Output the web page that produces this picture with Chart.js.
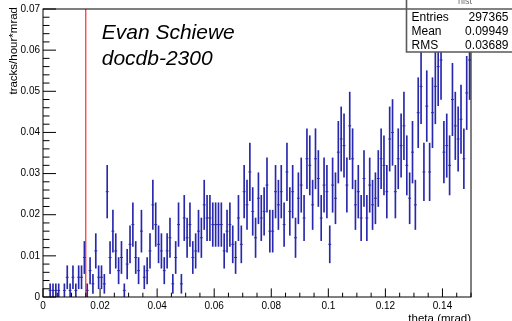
<!DOCTYPE html>
<html><head><meta charset="utf-8">
<script src="https://cdn.jsdelivr.net/npm/chart.js@4.4.1/dist/chart.umd.min.js"></script>
<style>html,body{margin:0;padding:0;background:#fff;overflow:hidden}canvas{display:block}</style>
</head><body>
<canvas id="c" width="512" height="321" style="width:512px;height:321px"></canvas>
<script>
// ---- data (150 bins, 0 .. 0.15 mrad) ----
const xRange = [0, 0.15];
const yRange = [0, 0.07];
const rate = [
  0,0,.0016,.0016,.0016,.0016,0,.0016,.0048,.0016,
  .0048,.0016,.0048,.0048,.0096,.0016,.0064,.0032,.0112,.0048,
  .0048,.0032,.0256,.0096,.016,.0112,.0064,.0096,.0016,.008,
  .0128,.0176,.0096,.0064,.016,.0048,.0064,.0112,.0224,.0176,
  .0128,.0112,.0064,.0112,.0144,.0032,.0096,.0176,.0032,.0192,
  .0144,.0176,.0096,.0112,.016,.0144,.0224,.0192,.0192,.0176,
  .0176,.0176,.0176,.0112,.016,.0176,.0128,.0096,.0192,.0128,
  .0256,.0224,.0304,.0208,.0144,.024,.0192,.0208,.0272,.016,
  .016,.0256,.0224,.0256,.0176,.0304,.0208,.0256,.0144,.024,
  .0272,.0192,.0336,.032,.0224,.0336,.0288,.0192,.0272,.0256,
  .0128,.0272,.024,.0352,.0384,.0368,.0272,.0416,.0336,.0224,
  .0256,.0192,.0288,.0192,.0272,.0224,.024,.0288,.0336,.032,
  .0256,.0384,.04,.0256,.0336,.0368,.0416,.032,.024,.0352,
  .0224,.0448,.0512,.0304,.0464,.0304,.0448,.0512,.056,.0576,
  .0352,.0368,.032,.048,.0416,.0384,.0432,.0336,.0496,.0576
];
const rateErr = [
  0,0,.0016,.0016,.0016,.0016,0,.0016,.0028,.0016,
  .0028,.0016,.0028,.0028,.0039,.0016,.0032,.0023,.0042,.0028,
  .0028,.0023,.0064,.0039,.0051,.0042,.0032,.0039,.0016,.0036,
  .0045,.0053,.0039,.0032,.0051,.0028,.0032,.0042,.006,.0053,
  .0045,.0042,.0032,.0042,.0048,.0023,.0039,.0053,.0023,.0055,
  .0048,.0053,.0039,.0042,.0051,.0048,.006,.0055,.0055,.0053,
  .0053,.0053,.0053,.0042,.0051,.0053,.0045,.0039,.0055,.0045,
  .0064,.006,.007,.0058,.0048,.0062,.0055,.0058,.0066,.0051,
  .0051,.0064,.006,.0064,.0053,.007,.0058,.0064,.0048,.0062,
  .0066,.0055,.0073,.0072,.006,.0073,.0068,.0055,.0066,.0064,
  .0045,.0066,.0062,.0075,.0078,.0077,.0066,.0082,.0073,.006,
  .0064,.0055,.0068,.0055,.0066,.006,.0062,.0068,.0073,.0072,
  .0064,.0078,.008,.0064,.0073,.0077,.0082,.0072,.0062,.0075,
  .006,.0085,.0091,.007,.0086,.007,.0085,.0091,.0095,.0096,
  .0075,.0077,.0072,.0088,.0082,.0078,.0083,.0073,.0089,.0096
];
const cutTheta = 0.015;
const xTickValues = [0, 0.02, 0.04, 0.06, 0.08, 0.1, 0.12, 0.14];
const xTickLabels = ['0', '0.02', '0.04', '0.06', '0.08', '0.1', '0.12', '0.14'];
const yTickValues = [0, 0.01, 0.02, 0.03, 0.04, 0.05, 0.06, 0.07];
const yTickLabels = ['0', '0.01', '0.02', '0.03', '0.04', '0.05', '0.06', '0.07'];
const statTitle = 'hist';
const statLabels = ['Entries', 'Mean', 'RMS'];
const statValues = ['297365', '0.09949', '0.03689'];
const noteLines = ['Evan Schiewe', 'docdb-2300'];
const xTitle = 'theta (mrad)';
const yTitle = 'tracks/hour*mrad';

// ---- build datasets ----
const nBins = rate.length;
const binWidth = (xRange[1] - xRange[0]) / nBins;
const errBars = [], marks = [];
rate.forEach((v, i) => {
  if (v > 0) {
    const xc = xRange[0] + binWidth * (i + 0.5);
    errBars.push({x: xc, y: [v - rateErr[i], v + rateErr[i]]});
    marks.push({x: xc, y: v});
  }
});

const FONT = "'Liberation Sans', Arial, Helvetica, sans-serif";
const BLUE = 'rgb(40,40,172)';
Chart.defaults.font.family = FONT;
Chart.defaults.color = '#000';

const rootStyle = {
  id: 'rootStyle',
  afterDatasetsDraw(chart) {
    const ctx = chart.ctx, a = chart.chartArea;
    const xs = chart.scales.x, ys = chart.scales.y;
    ctx.save();
    ctx.strokeStyle = '#000';
    ctx.lineWidth = 1;
    // frame
    ctx.strokeRect(a.left, a.top, a.right - a.left, a.bottom - a.top);
    // x ticks (inward)
    ctx.beginPath();
    for (let k = 0; k <= 30; k++) {
      const v = xRange[0] + k * 0.005;
      const px = xs.getPixelForValue(v);
      const len = (k % 4 === 0) ? 8.6 : 4.3;
      ctx.moveTo(px, a.bottom); ctx.lineTo(px, a.bottom - len);
    }
    // y ticks (inward)
    for (let k = 0; k <= 35; k++) {
      const v = yRange[0] + k * 0.002;
      const py = ys.getPixelForValue(v);
      const len = (k % 5 === 0) ? 13 : 6.5;
      ctx.moveTo(a.left, py); ctx.lineTo(a.left + len, py);
    }
    ctx.stroke();
    // axis titles
    ctx.fillStyle = '#000';
    ctx.font = '11.5px ' + FONT;
    ctx.textAlign = 'right';
    ctx.textBaseline = 'alphabetic';
    ctx.fillText(xTitle, a.right, 321.5);
    ctx.save();
    ctx.translate(17.2, a.top - 2);
    ctx.rotate(-Math.PI / 2);
    ctx.textAlign = 'right';
    ctx.fillText(yTitle, 0, 0);
    ctx.restore();
    // note text
    ctx.font = 'italic 21px ' + FONT;
    ctx.textAlign = 'left';
    ctx.fillText(noteLines[0], 101.7, 39.3);
    ctx.fillText(noteLines[1], 101.7, 65);
    ctx.restore();
  },
  afterDraw(chart) {
    const ctx = chart.ctx;
    ctx.save();
    const bx = 406.5, by = 9, bw = 110, bh = 43;
    ctx.fillStyle = '#fff';
    ctx.fillRect(bx, -5, bw, by + bh + 5);
    ctx.strokeStyle = 'rgb(90,90,90)';
    ctx.lineWidth = 1.6;
    ctx.beginPath();
    ctx.moveTo(bx, -5); ctx.lineTo(bx, by + bh); ctx.lineTo(bx + bw, by + bh);
    ctx.moveTo(bx, by); ctx.lineTo(bx + bw, by);
    ctx.stroke();
    ctx.fillStyle = 'rgb(110,110,110)';
    ctx.font = '9px ' + FONT;
    ctx.textAlign = 'center';
    ctx.fillText(statTitle, 465, 4);
    ctx.fillStyle = '#000';
    ctx.font = '12px ' + FONT;
    const rows = [20.7, 35, 49.3];
    statLabels.forEach((l, i) => {
      ctx.textAlign = 'left';
      ctx.fillText(l, 411.5, rows[i]);
      ctx.textAlign = 'right';
      ctx.fillText(statValues[i], 508.5, rows[i]);
    });
    ctx.restore();
  }
};

new Chart(document.getElementById('c'), {
  data: {
    datasets: [
      {
        type: 'bar', data: errBars, backgroundColor: BLUE, borderWidth: 0,
        barThickness: 1, grouped: false, order: 3
      },
      {
        type: 'scatter', data: marks, pointStyle: 'line', pointRadius: 1.45,
        borderColor: BLUE, borderWidth: 1, backgroundColor: BLUE, order: 2
      },
      {
        type: 'line', data: [{x: cutTheta, y: yRange[0]}, {x: cutTheta, y: yRange[1]}],
        borderColor: 'rgb(255,0,0)', borderWidth: 1, pointRadius: 0, fill: false, order: 1
      }
    ]
  },
  options: {
    responsive: false, animation: false, devicePixelRatio: 1, events: [],
    layout: {padding: {left: 0, right: 41, top: 9, bottom: 0}},
    plugins: {legend: {display: false}, tooltip: {enabled: false}},
    scales: {
      x: {
        type: 'linear', min: xRange[0], max: xRange[1], offset: false,
        grid: {display: false, drawTicks: false}, border: {display: false},
        afterBuildTicks: s => { s.ticks = xTickValues.map(v => ({value: v})); },
        afterFit: s => { s.height = 24; },
        ticks: {
          autoSkip: false, maxRotation: 0, padding: 3, font: {size: 10},
          callback: (v, i) => xTickLabels[i]
        }
      },
      y: {
        type: 'linear', min: yRange[0], max: yRange[1],
        grid: {display: false, drawTicks: false}, border: {display: false},
        afterBuildTicks: s => { s.ticks = yTickValues.map(v => ({value: v})); },
        afterFit: s => { s.width = 43; },
        ticks: {
          autoSkip: false, padding: 3, font: {size: 10},
          callback: (v, i) => yTickLabels[i]
        }
      }
    }
  },
  plugins: [rootStyle]
});
</script>
</body></html>
